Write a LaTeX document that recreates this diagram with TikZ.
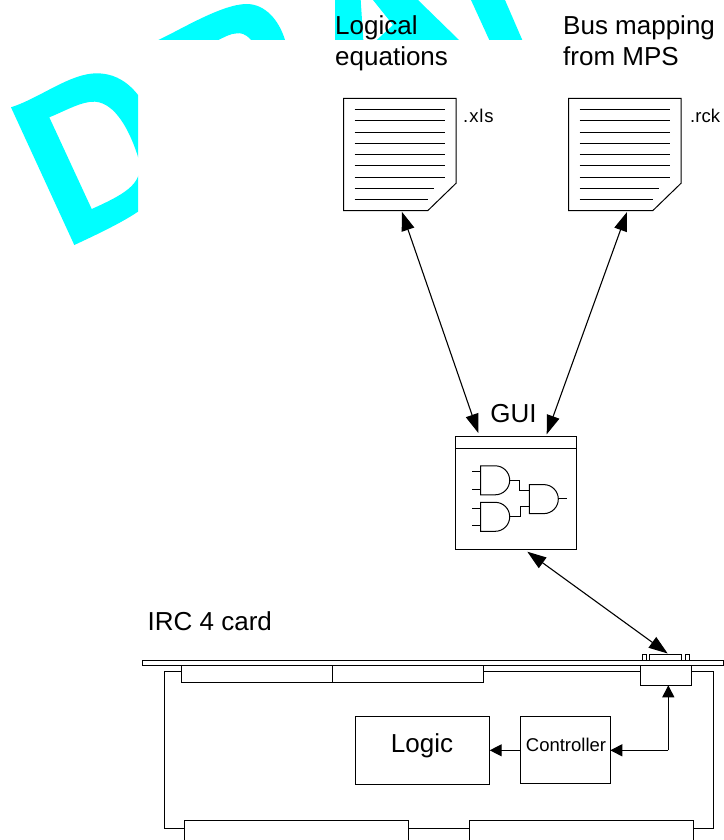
\documentclass[tikz,border=0pt]{standalone}
\usepackage{fontspec}
\setmainfont{Liberation Sans}
\usetikzlibrary{arrows.meta}
\definecolor{wmcyan}{RGB}{0,255,255}
\tikzset{
  ln/.style={draw=black,line width=1pt},
  thin ln/.style={draw=black,line width=1pt},
  wm/.style={fill=wmcyan,draw=none},
  arr/.style={draw=black,line width=1.1pt,{Triangle[length=19pt,width=13pt]}-{Triangle[length=19pt,width=13pt]}},
  arrone/.style={draw=black,line width=1.2pt,-{Triangle[length=12pt,width=12pt]}},
  lab/.style={inner sep=0pt,anchor=base west,font=\fontsize{26pt}{30pt}\selectfont},
  ext/.style={inner sep=0pt,anchor=base west,font=\fontsize{18.5pt}{22pt}\selectfont},
  box/.style={draw=black,line width=1pt,fill=white,inner sep=0pt,outer sep=0pt,anchor=north west},
  pics/doc/.style={code={
    \draw[ln,fill=white] (0,0) -- (112.3,0) -- (112.3,85) -- (84,112.4) -- (0,112.4) -- cycle;
    \foreach \yy in {11.4,22.6,33.9,45.1,56.4,67.6,78.9} \draw[ln] (11,\yy) -- (101.3,\yy);
    \draw[ln] (11,90.1) -- (90.3,90.1);
    \draw[ln] (11,101.4) -- (84.6,101.4);
  }},
  pics/andg/.style={code={
    \draw[thin ln] (0,0) -- (14.5,0) arc[start angle=-90,end angle=90,radius=14.5] -- (0,29) -- cycle;
  }}
}
\begin{document}
\begin{tikzpicture}[x=1pt,y=-1pt]
\useasboundingbox (0,0) rectangle (723,840);
% watermark
\begin{scope}
\clip (0,60) rectangle (138,260);
\fill[wm,even odd rule] (11,107.3) .. controls (40,98) and (70,73.3) .. (96.7,73.3) .. controls (125,73.3) and (150,95) .. (165,160) .. controls (170,195) and (150,210) .. (74.3,245) -- cycle
 (49.3,117.3) .. controls (65,111) and (82,101) .. (95,101.7) .. controls (115,103) and (130,130) .. (139,160) .. controls (143,182) and (130,192) .. (91.7,209) -- cycle;
\end{scope}
\begin{scope}
\clip (150,0) rectangle (330,40);
\fill[wm] (158.3,40) .. controls (180,30) and (222,4) .. (246.7,4) .. controls (265,4) and (279,20) .. (285,40) -- (251,40) .. controls (245,33) and (240,33) .. (237.3,33.3) .. controls (230,33.5) and (225,37) .. (218.3,40) -- cycle;
\end{scope}
\begin{scope}
\clip (330,0) rectangle (530,40);
\fill[wm] (335,0) -- (335,40) -- (363.3,40) -- (360.7,0) -- cycle;
\fill[wm] (373,0) -- (418,0) -- (459,40) -- (376.7,40) -- (393,25) -- cycle;
\fill[wm] (471,0) -- (489.3,40) -- (522.3,40) -- (505,0) -- cycle;
\end{scope}
% documents
\pic at (343.7,98.3) {doc};
\pic at (568.7,98.3) {doc};
\coordinate (d1) at (401.8,211.7);
\coordinate (d2) at (627,212);
\node[lab] (t1) at (335,35) {Logical};
\node[lab] (t2) at (335,66) {equations};
\node[lab] (t3) at (563,35) {Bus mapping};
\node[lab] (t4) at (563,66) {from MPS};
\node[ext] (x1) at (463,122) {\addfontfeature{LetterSpace=5}.xls};
\node[ext] (x2) at (690,122) {.rck};
% GUI
\node[lab,anchor=base] (gt) at (513.5,422) {GUI};
\node[box,minimum width=121pt,minimum height=112.3pt] (gui) at (455.7,436.7) {};
\coordinate (bar1) at (455.7,448);
\coordinate (bar2) at (576.7,448);
\draw[ln] (bar1) -- (bar2);
\pic at (480.7,465.8) {andg};
\pic at (480.7,502.3) {andg};
\pic at (529.3,484.6) {andg};
\draw[thin ln] (472.3,471.7) -- (480.7,471.7) (472.3,489) -- (480.7,489) (472.3,508.3) -- (480.7,508.3) (472.3,525) -- (480.7,525);
\draw[thin ln] (509.7,480.3) -- (519.5,480.3) -- (519.5,490.7) -- (529.3,490.7);
\draw[thin ln] (509.7,516.7) -- (520.3,516.7) -- (520.3,506.7) -- (529.3,506.7);
\draw[thin ln] (558.3,498.8) -- (566.7,498.8);
\coordinate (g1) at (478.3,433);
\coordinate (g2) at (546.7,434.3);
\coordinate (g3) at (527.3,551.7);
\draw[arr] (d1) -- (g1);
\draw[arr] (d2) -- (g2);
% connector
\draw[thin ln] (642.3,660.3) rectangle (646,654.3);
\draw[thin ln] (685,660.3) rectangle (689,654.3);
\draw[thin ln] (649.3,660.3) rectangle (681.7,654.3);
\coordinate (c1) at (667.7,653.5);
\draw[arr] (g3) -- (c1);
% card
\node[lab] (card) at (147.5,630) {IRC 4 card};
\draw[thin ln,fill=white] (142.7,660.3) rectangle (723,665.7);
\draw[ln] (181.7,671.7) -- (164.7,671.7) -- (164.7,828.7) -- (184.3,828.7);
\draw[ln] (483.7,671.7) -- (640.3,671.7);
\draw[ln] (691,671.7) -- (713,671.7) -- (713,828.5) -- (693.3,828.5);
\draw[ln] (408.3,828.5) -- (469.3,828.5);
\node[box,minimum width=151pt,minimum height=17pt] (s1) at (181.7,665.7) {};
\node[box,minimum width=151pt,minimum height=17pt] (s2) at (332.7,665.7) {};
\node[box,minimum width=50.7pt,minimum height=19.6pt] (s3) at (640.3,665.7) {};
\node[box,minimum width=224pt,minimum height=25pt] (b1) at (184.3,820.7) {};
\node[box,minimum width=224pt,minimum height=25pt] (b2) at (469.3,820.7) {};
\node[box,minimum width=134.7pt,minimum height=67.6pt] (logic) at (355,716.4) {};
\node[lab,anchor=base] (logict) at (422,752) {Logic};
\node[box,minimum width=89.6pt,minimum height=67.2pt] (ctrl) at (520.7,716.6) {};
\node[ext,anchor=base] (ctrlt) at (566,751.7) {Controller};
\coordinate (cw) at (520.7,750.3);
\coordinate (le) at (489.7,750.3);
\coordinate (ce) at (610.3,750.3);
\coordinate (turn) at (668.3,750.3);
\coordinate (sb) at (668.3,685.3);
\draw[arrone] (cw) -- (le);
\draw[arrone] (turn) -- (ce);
\draw[arrone] (turn) -- (sb);
\end{tikzpicture}
\end{document}
